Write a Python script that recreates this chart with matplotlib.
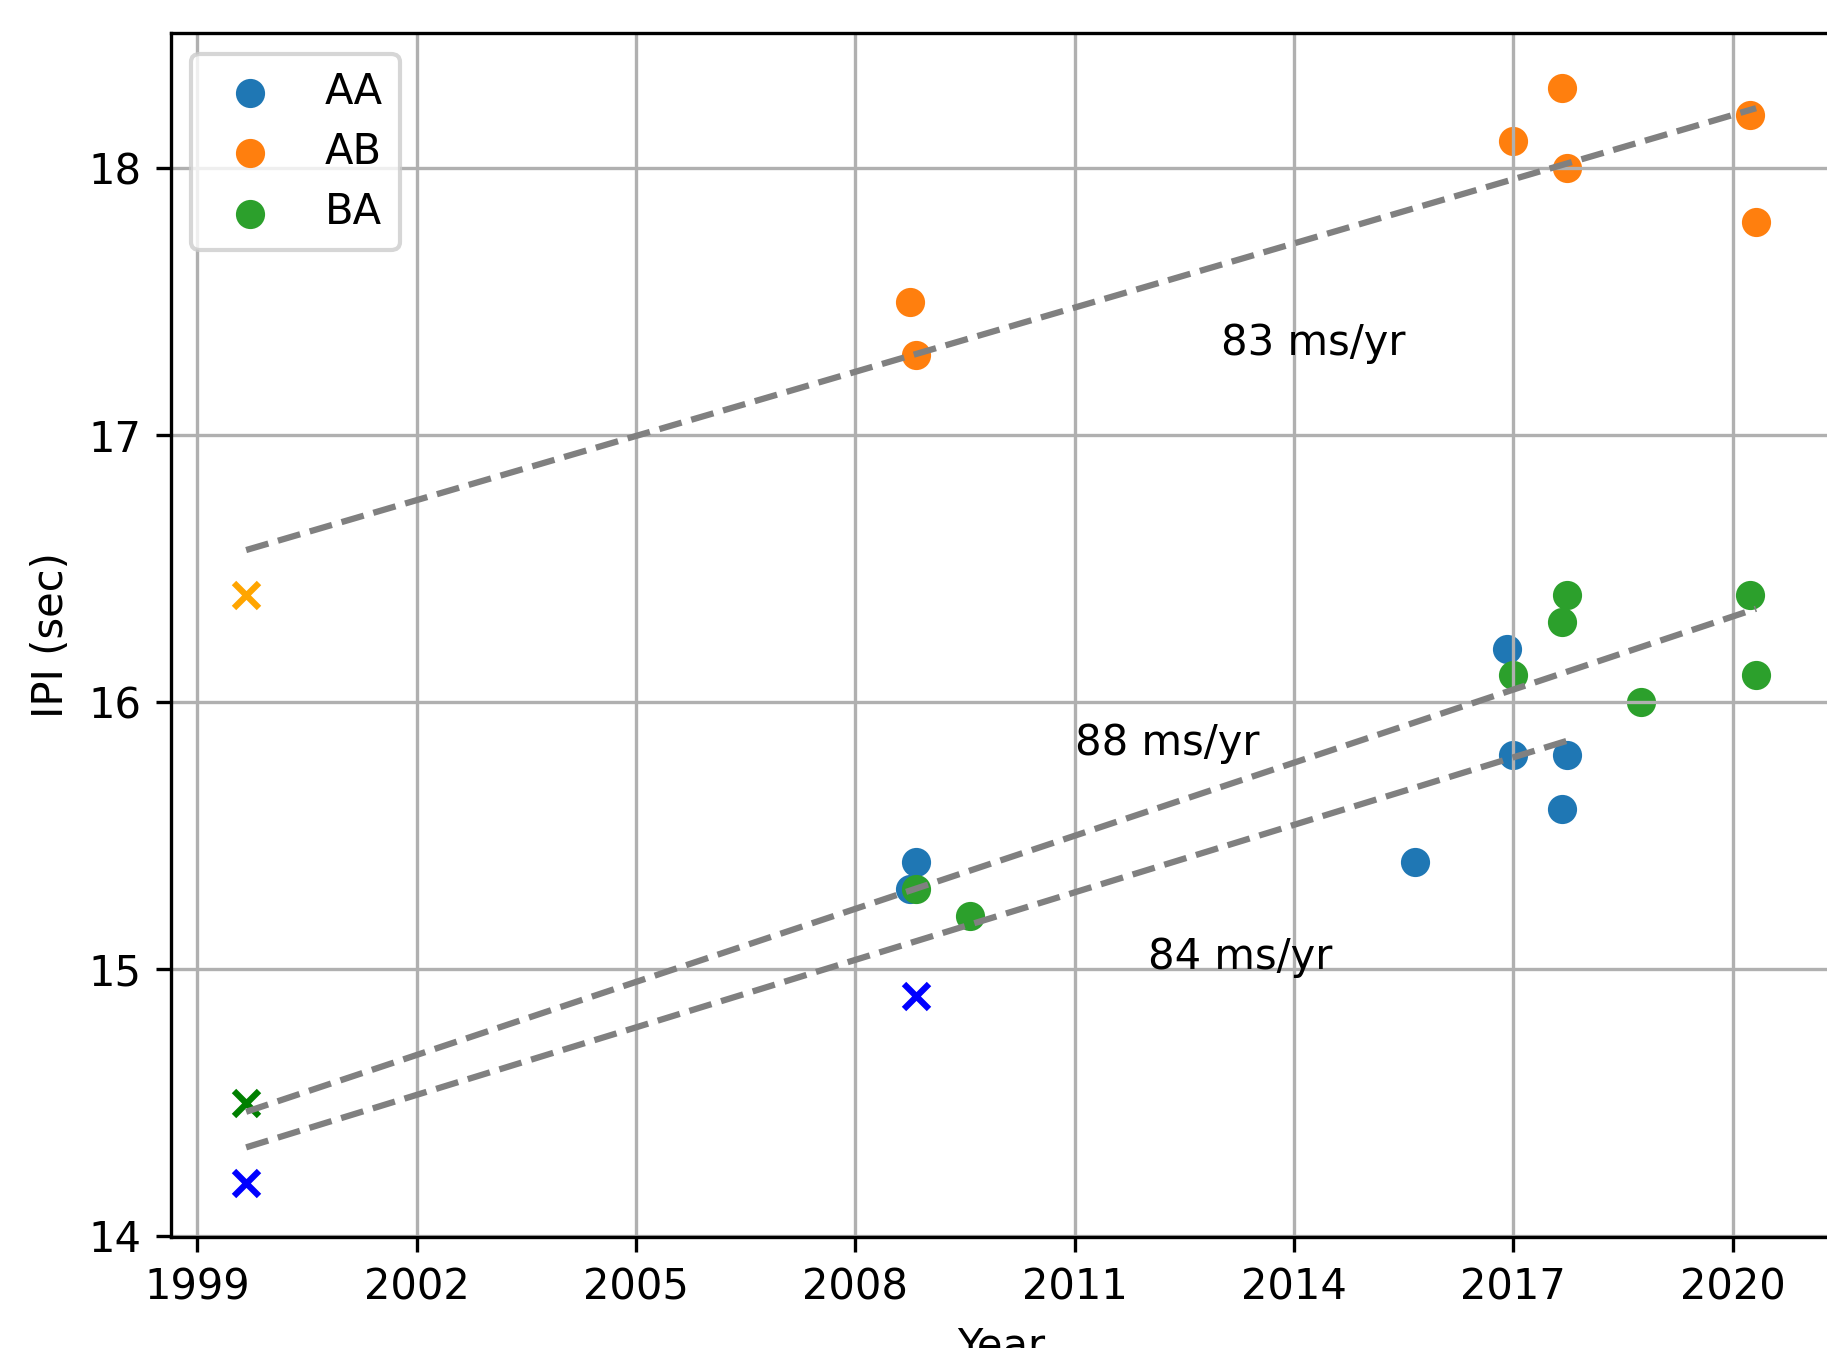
#!/usr/bin/env python3
import numpy as np
import matplotlib
matplotlib.use('Agg')
import matplotlib.pyplot as plt

# pulse measurements per pair (year, inter-pulse interval in sec)
aa_year = [2008.75, 2008.83, 2015.66, 2016.91, 2017.0, 2017.66, 2017.74]
aa_ipi = [15.3, 15.4, 15.4, 16.2, 15.8, 15.6, 15.8]

ab_year = [2008.75, 2008.83, 2017.0, 2017.66, 2017.74, 2020.24, 2020.32]
ab_ipi = [17.5, 17.3, 18.1, 18.3, 18.0, 18.2, 17.8]

ba_year = [2008.83, 2009.57, 2017.0, 2017.66, 2017.74, 2018.74, 2020.24, 2020.32]
ba_ipi = [15.3, 15.2, 16.1, 16.3, 16.4, 16.0, 16.4, 16.1]

# older records, shown as crosses
old_aa_year = [1999.67, 2008.83]
old_aa_ipi = [14.2, 14.9]
old_ab_year = [1999.67]
old_ab_ipi = [16.4]
old_ba_year = [1999.67]
old_ba_ipi = [14.5]

rates = ['88 ms/yr', '84 ms/yr', '83 ms/yr']
rate_pos = [(2011, 15.8), (2012, 15.0), (2013, 17.3)]

fig = plt.figure(figsize=(1827 / 300, 1348 / 300), dpi=300)
ax = fig.add_axes([0.0934, 0.0821, 0.9091, 0.8932])

ax.scatter(aa_year, aa_ipi, label='AA')
ax.scatter(ab_year, ab_ipi, label='AB')
ax.scatter(ba_year, ba_ipi, label='BA')

ax.scatter(old_ab_year, old_ab_ipi, marker='x', color='orange')
ax.scatter(old_ba_year, old_ba_ipi, marker='x', color='green')
ax.scatter(old_aa_year, old_aa_ipi, marker='x', color='blue')

# linear fits through old + new points
for yrs, vals in [(aa_year + old_aa_year, aa_ipi + old_aa_ipi),
                  (ab_year + old_ab_year, ab_ipi + old_ab_ipi),
                  (ba_year + old_ba_year, ba_ipi + old_ba_ipi)]:
    p = np.polyfit(yrs, vals, 1)
    xx = np.array([min(yrs), max(yrs)])
    ax.plot(xx, np.polyval(p, xx), '--', color='gray')

for txt, (tx, ty) in zip(rates, rate_pos):
    ax.text(tx, ty, txt)

ax.set_xticks(np.arange(1999, 2021, 3))
ax.grid(True)
ax.legend(loc='upper left', labelspacing=0.44)
ax.set_xlabel('Year')
ax.set_ylabel('IPI (sec)')

fig.savefig('out.png', dpi=300)
